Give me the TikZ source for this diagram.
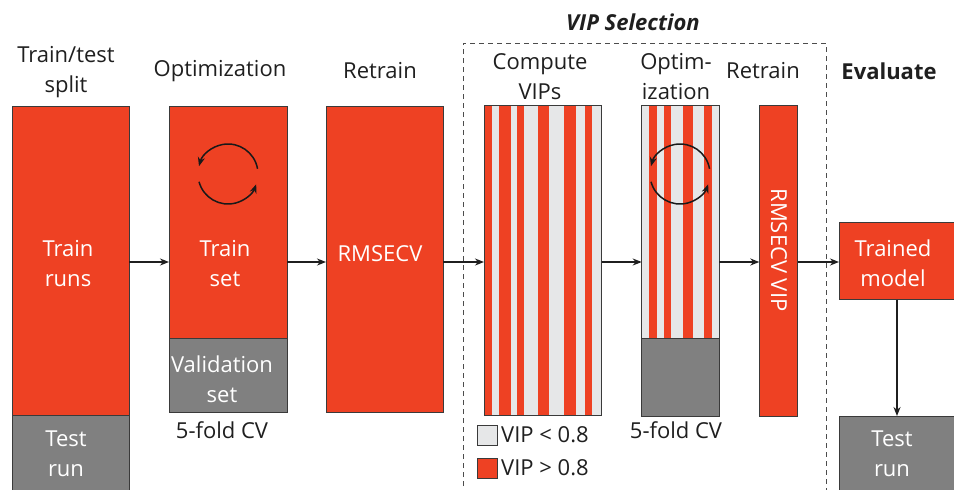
\documentclass[tikz,border=0pt]{standalone}
\usepackage{fontspec}
\setmainfont{Open Sans}
\usetikzlibrary{arrows.meta}
\definecolor{redf}{HTML}{EE4123}
\definecolor{grayf}{HTML}{808080}
\definecolor{lightf}{HTML}{E6E7E8}
\definecolor{edge}{HTML}{3A3A3A}
\begin{document}
\begin{tikzpicture}[x=1pt,y=-1pt,
  box/.style={draw=edge, line width=0.9pt, inner sep=0pt, outer sep=0pt, anchor=north west},
  wtxt/.style={text=white, font=\fontsize{22}{30}\selectfont, align=center, inner sep=0pt},
  htxt/.style={text=black!88, font=\fontsize{22}{30}\selectfont, align=center, inner sep=0pt},
  arr/.style={line width=1.5pt, draw=black!88, -{Stealth[length=9pt,width=7pt]}},
  cyc/.style={line width=1.5pt, draw=black!90, -{Stealth[length=9pt,width=7pt]}},
  dashbox/.style={draw=black!70, line width=0.9pt, dash pattern=on 5pt off 4pt}]
\useasboundingbox (0,0) rectangle (954,490);
\fill[white] (0,0) rectangle (954,490);

% Headings
\node[htxt] (h1) at (66,72) {Train/test\\split};
\node[htxt] (h2) at (220,71) {Optimization};
\node[htxt] (h3) at (380,71) {Retrain};
\node[htxt, font=\fontsize{22}{30}\selectfont\bfseries\itshape] (h4) at (633,22) {VIP Selection};
\node[htxt] (h5) at (540,77) {Compute\\VIPs};
\node[htxt] (h6) at (676,77) {Optim-\\ization};
\node[htxt] (h7) at (763,71) {Retrain};
\node[htxt, font=\fontsize{22}{30}\selectfont\bfseries] (h8) at (889,71) {Evaluate};

% dashed VIP selection frame
\draw[dashbox] (463,495) -- (463,43) -- (826,43) -- (826,495);

% Train/test split
\node[box, fill=redf, minimum width=117pt, minimum height=309pt] (split) at (12,106) {};
\node[box, fill=grayf, minimum width=117pt, minimum height=80pt] (test1) at (12,415) {};
\node[wtxt] (t1) at (68,264) {Train\\runs};
\node[wtxt] (t2) at (66,454) {Test\\run};

% Optimization
\node[box, fill=redf, minimum width=118pt, minimum height=232pt] (opt) at (169,106) {};
\node[box, fill=grayf, minimum width=118pt, minimum height=74pt] (val) at (169,338) {};
\node[wtxt] (t3) at (225,264) {Train\\set};
\node[wtxt] (t4) at (222,379) {Validation\\set};
\node[htxt] (cv1) at (222,430) {5-fold CV};
\coordinate (c1) at (228,174);
\draw[cyc] ([shift={(-10:30)}]c1) arc[start angle=-10, end angle=-165, radius=30];
\draw[cyc] ([shift={(165:30)}]c1) arc[start angle=165, end angle=20, radius=30];

% Retrain
\node[box, fill=redf, minimum width=117pt, minimum height=306pt] (ret) at (326,106) {};
\node[wtxt] (t5) at (380,254) {RMSECV};

% Compute VIPs (striped)
\fill[lightf] (484,105) rectangle (601.5,415.5);
\foreach \a/\b in {484/492.3, 499.3/511, 517/524.3, 537.7/549.3, 564/575.7, 585/592}
  \fill[redf] (\a,105) rectangle (\b,415.5);
\node[box, minimum width=117.5pt, minimum height=310.5pt] (vip) at (484,105) {};

% Legend
\node[box, fill=lightf, minimum width=20pt, minimum height=20pt] (lg1) at (477,425) {};
\node[htxt, anchor=west] (lt1) at (501,435) {VIP < 0.8};
\node[box, fill=redf, minimum width=20pt, minimum height=20pt] (lg2) at (477,458) {};
\node[htxt, anchor=west] (lt2) at (501,468) {VIP > 0.8};

% Optimization (VIP)
\fill[lightf] (641.7,105) rectangle (719.3,338);
\foreach \a/\b in {649/656.7, 664/671.3, 682.7/693.3, 704/711.7}
  \fill[redf] (\a,105) rectangle (\b,338);
\node[box, minimum width=77.6pt, minimum height=233pt] (opt2) at (641.7,105) {};
\node[box, fill=grayf, minimum width=77.6pt, minimum height=78pt] (val2) at (641.7,338) {};
\node[htxt] (cv2) at (676,430) {5-fold CV};
\coordinate (c2) at (680,174);
\draw[cyc] ([shift={(-10:30)}]c2) arc[start angle=-10, end angle=-165, radius=30];
\draw[cyc] ([shift={(165:30)}]c2) arc[start angle=165, end angle=20, radius=30];

% Retrain VIP
\node[box, fill=redf, minimum width=38.5pt, minimum height=311pt] (ret2) at (759.3,105) {};
\node[wtxt, rotate=-90] (t6) at (779,250) {RMSECV VIP};

% Evaluate
\node[box, fill=redf, minimum width=125pt, minimum height=77.5pt] (model) at (839,222) {};
\node[wtxt] (t7) at (893,263) {Trained\\model};
\node[box, fill=grayf, minimum width=125pt, minimum height=80pt] (test2) at (839,416) {};
\node[wtxt] (t8) at (892,454) {Test\\run};

% Arrows
\coordinate (ym) at (0,262);
\draw[arr] (split.east |- ym) -- (opt.west |- ym);
\draw[arr] (opt.east |- ym) -- (ret.west |- ym);
\draw[arr] (ret.east |- ym) -- (vip.west |- ym);
\draw[arr] (vip.east |- ym) -- (opt2.west |- ym);
\draw[arr] (opt2.east |- ym) -- (ret2.west |- ym);
\draw[arr] (ret2.east |- ym) -- (model.west |- ym);
\coordinate (xd) at (897,0);
\draw[arr] (xd |- model.south) -- (xd |- test2.north);
\end{tikzpicture}
\end{document}
